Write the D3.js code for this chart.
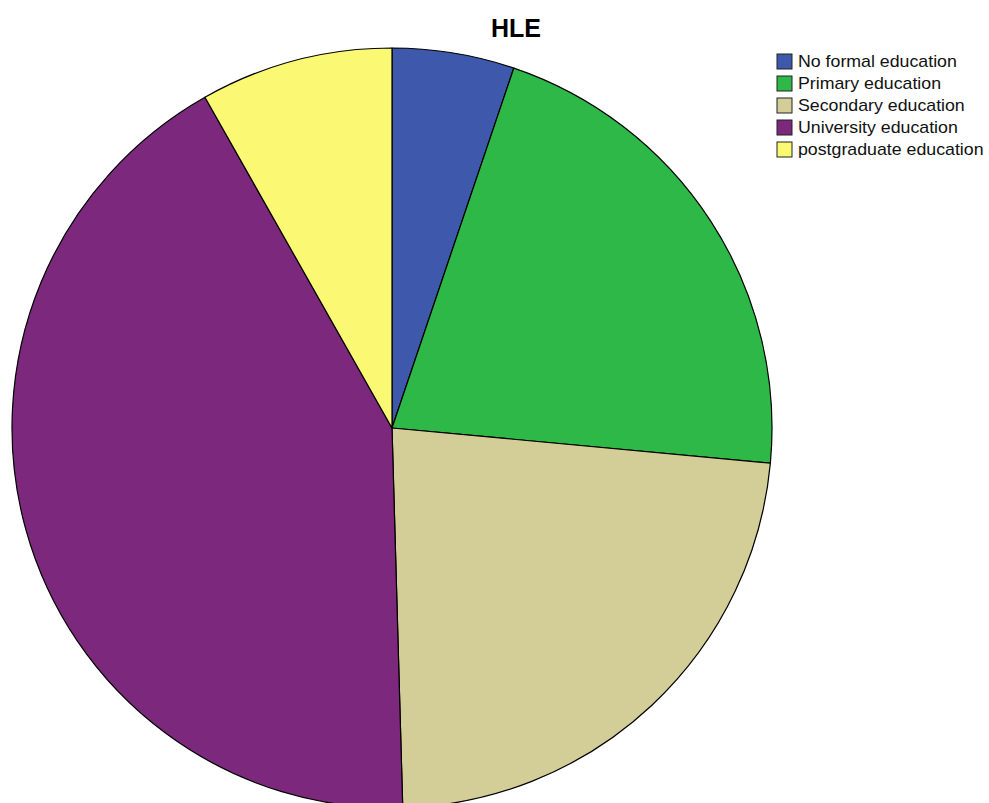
<!DOCTYPE html>
<html><head><meta charset="utf-8">
<script src="https://cdn.jsdelivr.net/npm/d3@7"></script>
<style>body{margin:0;background:#fff;overflow:hidden}</style>
</head><body>
<svg id="c" width="989" height="803"></svg>
<script>
const categories = ["No formal education","Primary education","Secondary education","University education","postgraduate education"];
const values = [5.2, 21.3, 23.1, 42.3, 8.2];
const colors = ["#3E58AC","#2EB848","#D3CE97","#7C287D","#FBF873"];
const title = "HLE";

const svg = d3.select("#c");
const cx = 392, cy = 428, r = 380;
const pie = d3.pie().sort(null).value(d => d.v);
const arc = d3.arc().innerRadius(0).outerRadius(r);
const data = categories.map((c,i)=>({c, v: values[i], col: colors[i]}));
const g = svg.append("g").attr("transform", `translate(${cx},${cy})`);
g.selectAll("path").data(pie(data)).join("path")
  .attr("d", arc).attr("fill", d => d.data.col)
  .attr("stroke", "#000").attr("stroke-width", 1.2).attr("stroke-linejoin","round");

svg.append("text").attr("x", 516).attr("y", 37).attr("text-anchor","middle")
  .attr("font-family","Liberation Sans, Arial, sans-serif").attr("font-size", 25)
  .attr("font-weight","bold").attr("fill","#000").text(title);

const leg = svg.append("g").attr("transform","translate(777,54)");
const rows = leg.selectAll("g").data(data).join("g")
  .attr("transform", (d,i)=>`translate(0,${i*22})`);
rows.append("rect").attr("width",15).attr("height",15)
  .attr("fill", d=>d.col).attr("stroke","#222").attr("stroke-width",1);
rows.append("text").attr("transform","translate(21,13) scale(1.11,1)")
  .attr("font-family","Liberation Sans, Arial, sans-serif").attr("font-size",16)
  .attr("fill","#111").text(d=>d.c);
</script>
</body></html>
